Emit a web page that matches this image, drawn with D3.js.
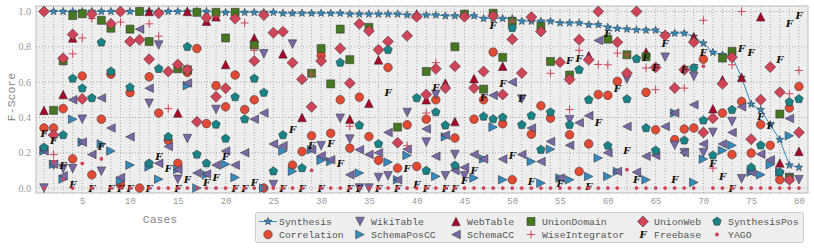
<!DOCTYPE html>
<html>
<head>
<meta charset="utf-8">
<script src="https://cdn.jsdelivr.net/npm/d3@7"></script>
<style>
  body { margin: 0; background: #fff; }
</style>
</head>
<body>
<div id="chart"></div>
<script>
const width = 814;
const height = 249;

const cases = d3.range(1, 81);
const xTicks = [5, 10, 15, 20, 25, 30, 35, 40, 45, 50, 55, 60, 65, 70, 75, 80];
const yTicks = [0, 0.2, 0.4, 0.6, 0.8, 1.0];

// F-score per case, null = no marker visible
const synthesis = [
  1, 1, 1, 1, 1, 1, 1, 1, 1, 1,
  1, 1, 1, 1, 1, 1, 1, 1, 0.995, 0.995,
  0.995, 0.995, 0.995, 0.995, 0.995, 0.99, 0.99, 0.99, 0.99, 0.99,
  0.99, 0.99, 0.985, 0.985, 0.985, 0.985, 0.985, 0.985, 0.98, 0.98,
  0.98, 0.98, 0.975, 0.975, 0.975, 0.975, 0.96, 0.96, 0.96, 0.96,
  0.945, 0.945, 0.945, 0.945, 0.935, 0.935, 0.935, 0.925, 0.925, 0.911,
  0.904, 0.90, 0.896, 0.894, 0.894, 0.872, 0.877, 0.877, 0.858, 0.82,
  0.768, 0.755, 0.745, 0.626, 0.475, 0.443, 0.358, 0.274, 0.13, 0.117
];
const correlation = [
  0.34, 0.34, 0.45, 0.165, 0.635, 0.075, 0.39, 0.645, 0.02, 0.54,
  0.0, 0.63, 0.425, 0.27, 0.14, 0.655, 0.79, 0.365, 0.58, 0.46,
  0.64, 0.445, 0.5, 0.0, null, null, 0.13, 0.207, 0.296, 0.75,
  0.31, 0.5, 0.226, 0.515, 0.292, 0.157, 0.683, 0.113, 0.358, 0.123,
  0.39, 0.5, null, 0.283, null, 0.39, 0.5, 0.77, 0.364, 0.047,
  null, 0.305, 0.466, 0.396, null, 0.302, 0.094, 0.25, 0.53, 0.525,
  0.604, null, null, 0.542, 0.33, null, 0.274, 0.334, 0.34, 0.73,
  null, 0.425, 0.19, 0.49, 0.198, 0.36, 0.242, 0.047, 0.453, 0.575
];
const wikiTable = [
  0.0, 0.13, 0.11, 0.11, 0.39, null, 0.095, null, null, null,
  null, 0.48, 0.81, null, 0.05, 0.28, null, null, 0.445, null,
  null, null, null, 0.76, 0.02, null, 0.815, null, null, 0.24,
  null, 0.395, 0.277, 0.0, 0.0, 0.06, 0.07, null, 0.428, null,
  0.26, 0.53, 0.07, 0.19, 0.07, null, null, null, null, null,
  0.504, null, null, null, null, 0.387, null, null, null, null,
  null, 0.617, null, null, null, 0.741, 0.242, 0.2, 0.632, 0.2,
  0.315, null, 0.377, 0.053, null, null, null, null, 0.06, 0.047
];
const schemaPosCC = [
  0.21, 0.135, 0.05, 0.39, 0.26, null, 0.25, 0.21, 0.04, 0.13,
  null, 0.12, 0.05, null, 0.105, 0.58, 0.0, 0.075, null, 0.135,
  0.06, null, null, 0.0, null, 0.21, 0.095, null, 0.217, 0.157,
  0.15, null, null, 0.085, null, null, 0.147, 0.047, 0.185, null,
  null, 0.066, 0.29, null, null, 0.057, 0.165, 0.345, 0.047, null,
  null, 0.15, 0.028, 0.22, 0.057, 0.047, null, 0.066, 0.17, 0.066,
  0.094, null, null, 0.047, null, null, 0.425, null, 0.032, 0.164,
  null, 0.213, 0.242, null, 0.09, 0.075, 0.132, 0.09, 0.296, null
];
const webTable = [
  0.44, null, 0.53, 0.85, null, null, null, null, null, null,
  null, 1.0, null, null, 0.425, 1.0, null, 0.945, 0.97, 0.70,
  null, null, 0.85, null, null, 0.76, null, 0.40, null, null,
  null, null, 0.39, null, 0.48, 0.726, null, null, null, 0.985,
  0.50, null, 0.594, 0.377, null, 0.62, null, null, 0.69, null,
  null, null, null, null, null, null, null, 0.75, null, null,
  null, null, null, 0.77, null, null, null, null, 0.855, null,
  0.449, 0.613, null, 0.626, null, 0.97, null, 0.142, null, 0.208
];
const schemaCC = [
  0.21, 0.135, 0.07, 0.50, 0.26, 0.19, 0.51, 0.34, 0.06, 0.29,
  0.90, 0.565, 0.14, 0.235, 0.105, 0.595, 0.085, 0.08, 0.13, 0.21,
  0.13, 0.2, 0.39, 0.425, 0.25, 0.24, null, null, 0.217, 0.183,
  0.16, null, 0.075, 0.217, 0.19, 0.2, 0.315, 0.047, 0.22, null,
  0.335, 0.18, 0.30, 0.1, 0.117, 0.19, 0.165, 0.525, 0.164, 0.6,
  0.19, 0.34, 0.15, 0.264, 0.057, 0.242, 0.37, 0.41, 0.836, 0.2,
  0.094, 0.349, 0.09, 0.18, 0.185, 0.349, 0.425, 0.2, 0.472, 0.25,
  null, 0.25, 0.315, 0.46, 0.09, 0.192, 0.16, null, 0.394, null
];
const unionDomain = [
  null, 0.44, 0.72, 0.977, 0.987, null, 0.95, 0.905, null, 0.90,
  1.0, 0.83, null, null, 0.675, 0.67, 0.995, null, 0.995, 0.85,
  0.995, null, 0.81, null, null, null, null, null, 0.65, 0.79,
  0.59, 0.90, 0.727, null, 0.91, null, null, 0.345, null, null,
  0.66, null, null, 0.8, 0.985, null, 0.56, 0.99, 0.74, 0.943,
  null, null, 0.915, 0.717, null, 0.64, null, null, null, 0.843,
  null, 0.755, null, 0.743, null, null, null, null, null, null,
  null, 0.736, 0.774, null, null, null, null, 0.419, 0.057, null
];
const wiseIntegrator = [
  null, 0.19, null, 0.76, 0.85, 0.96, null, null, 0.94, null,
  null, 0.93, 0.86, 0.45, null, null, null, null, 0.97, null,
  null, 0.935, 0.78, null, null, null, null, null, 0.645, null,
  null, null, 0.35, null, null, null, null, null, 0.24, null,
  0.425, 0.71, null, null, null, null, null, null, null, 0.943,
  null, null, null, 0.65, null, 0.445, 0.78, null, 0.7, 0.698,
  0.764, 0.755, null, 0.68, 0.557, null, null, 0.566, null, 0.95,
  0.113, null, 0.698, 1.0, null, null, null, null, 0.534, 0.666
];
const unionWeb = [
  1.0, 0.30, 0.735, 0.87, 0.505, 0.985, null, 0.93, 1.0, 0.83,
  0.84, 0.73, 0.99, 0.66, 0.70, 0.67, 0.375, 0.965, 0.517, 0.565,
  0.96, null, 0.72, 0.98, 0.88, 0.885, 0.71, 0.616, 0.46, 0.72,
  null, 0.79, 0.594, 0.93, 0.89, 0.783, 0.83, 0.257, 0.862, 0.97,
  0.53, 0.675, 0.566, 0.69, 0.97, 0.566, 0.66, 0.975, 0.53, 0.843,
  0.651, 0.968, 0.887, null, 0.713, 0.615, 0.84, 0.726, 1.0, null,
  0.826, 0.651, 1.0, null, 0.683, 0.864, 0.566, 0.67, 0.826, 0.315,
  0.396, 0.59, 0.741, null, 0.277, 0.5, 0.685, 0.542, 0.047, 0.315
];
const freebase = [
  0.31, 0.27, 0.13, 0.02, null, 0.0, 0.235, 0.0, 0.0, 0.0,
  null, 0.0, 0.18, 0.11, 0.0, 0.047, null, 0.03, 0.057, 0.18,
  0.0, 0.0, 0.03, null, null, 0.0, 0.33, 0.0, 0.24, 0.0,
  0.25, 0.137, 0.0, 0.0, null, 0.0, 0.54, 0.0, 0.11, 0.02,
  0.0, 0.57, 0.0, 0.0, 0.04, 0.1, 0.51, 0.92, 0.59, 0.183,
  0.505, 0.038, null, null, 0.028, 0.72, 0.735, 0.006, 0.37, 0.877,
  0.566, 0.213, 0.047, 0.74, 0.68, 0.82, 0.047, 0.67, 0.68, 0.768,
  0.14, 0.066, 0.0, 0.79, 0.77, 0.406, 0.353, 0.73, 0.93, 0.98
];
const synthesisPos = [
  0.23, null, 0.30, 0.62, 0.565, 0.51, 0.825, 0.66, null, 0.57,
  null, 0.14, 0.675, 0.29, null, 0.80, 0.19, 0.14, 0.36, 0.28,
  0.515, 0.39, 0.62, 0.54, 0.095, 0.30, null, 0.113, null, null,
  null, 0.71, null, 0.355, null, 0.25, 0.783, null, null, 0.51,
  0.098, 0.43, 0.355, 0.128, null, null, 0.405, 0.39, 0.4, 0.906,
  0.358, 0.41, 0.217, 0.43, null, 0.358, 0.67, 0.5, null, 0.24,
  null, 0.504, 0.732, 0.34, 0.213, null, null, 0.27, 0.68, 0.383,
  0.185, null, 0.443, null, 0.117, 0.242, null, 0.09, 0.487, 0.504
];
const yago = [
  0.0, 0.15, 0.05, 0.0, 0.14, 0.0, 0.165, 0.0, 0.0, 0.0,
  0.0, 0.0, 0.0, 0.0, 0.0, 0.0, 0.0, 0.0, 0.0, 0.0,
  0.0, 0.0, 0.0, 0.0, 0.0, 0.0, 0.0, 0.0, 0.1, 0.0,
  0.0, 0.0, 0.0, 0.0, 0.0, 0.0, 0.0, 0.0, 0.0, 0.0,
  0.0, 0.0, 0.0, 0.0, 0.0, 0.0, 0.0, 0.0, 0.0, 0.0,
  0.0, 0.0, 0.0, 0.0, 0.0, 0.0, 0.0, 0.0, 0.0, 0.0,
  0.0, 0.104, 0.0, 0.0, 0.0, 0.0, 0.0, 0.0, 0.0, 0.69,
  0.0, 0.0, 0.0, 0.0, 0.0, 0.0, 0.0, 0.0, 0.0, 0.0
];

// marker shapes (paths centred on 0,0)
function polyPath(pts) {
    return "M" + pts.map(p => p[0].toFixed(2) + "," + p[1].toFixed(2)).join("L") + "Z";
}
function triangle(r, dir) {
    const up = [[0, -r], [r, r], [-r, r]];
    const rot = {up: 0, right: 90, down: 180, left: 270}[dir] * Math.PI / 180;
    return polyPath(up.map(([x, y]) => [x * Math.cos(rot) - y * Math.sin(rot), x * Math.sin(rot) + y * Math.cos(rot)]));
}
function regular(n, r) {
    return polyPath(d3.range(n).map(i => {
        const a = -Math.PI / 2 + i * 2 * Math.PI / n;
        return [r * Math.cos(a), r * Math.sin(a)];
    }));
}
function star(ro, ri) {
    return polyPath(d3.range(10).map(i => {
        const a = -Math.PI / 2 + i * Math.PI / 5;
        const r = i % 2 ? ri : ro;
        return [r * Math.cos(a), r * Math.sin(a)];
    }));
}
const shapes = {
    star: star(4.1, 1.7),
    circle: d3.symbol(d3.symbolCircle, Math.PI * 4.3 * 4.3)(),
    down: triangle(4.3, "down"),
    right: triangle(4.3, "right"),
    up: triangle(4.3, "up"),
    left: triangle(4.3, "left"),
    square: polyPath([[-4, -4], [4, -4], [4, 4], [-4, 4]]),
    plus: "M-4,0L4,0M0,-4L0,4",
    diamond: polyPath([[0, -5.5], [5.5, 0], [0, 5.5], [-5.5, 0]]),
    pentagon: regular(5, 4.5),
    dot: d3.symbol(d3.symbolCircle, Math.PI * 1.9 * 1.9)()
};

// plot order (matplotlib fills legend column by column)
const series = [
    {name: "Synthesis", values: synthesis, shape: "star", color: "#348ABD", line: true},
    {name: "Correlation", values: correlation, shape: "circle", color: "#E24A33"},
    {name: "WikiTable", values: wikiTable, shape: "down", color: "#7A68A6"},
    {name: "SchemaPosCC", values: schemaPosCC, shape: "right", color: "#348ABD"},
    {name: "WebTable", values: webTable, shape: "up", color: "#A60628"},
    {name: "SchemaCC", values: schemaCC, shape: "left", color: "#7A68A6"},
    {name: "UnionDomain", values: unionDomain, shape: "square", color: "#467821"},
    {name: "WiseIntegrator", values: wiseIntegrator, shape: "plus", color: "#CF4457"},
    {name: "UnionWeb", values: unionWeb, shape: "diamond", color: "#CF4457"},
    {name: "Freebase", values: freebase, shape: "F", color: "#111"},
    {name: "SynthesisPos", values: synthesisPos, shape: "pentagon", color: "#188487"},
    {name: "YAGO", values: yago, shape: "dot", color: "#CF4457"}
];

const plot = {left: 36, right: 808, top: 6, bottom: 193};

let x = d3.scaleLinear()
    .domain([0.16, 80.95])
    .range([plot.left, plot.right]);

let y = d3.scaleLinear()
    .domain([-0.028, 1.031])
    .range([plot.bottom, plot.top]);

let svg = d3.select("#chart")
    .append("svg")
    .attr("width", width)
    .attr("height", height)
    .style("font-family", "'Liberation Mono', monospace");

svg.append("rect")
    .attr("x", plot.left)
    .attr("y", plot.top)
    .attr("width", plot.right - plot.left)
    .attr("height", plot.bottom - plot.top)
    .attr("fill", "#eeeeee");

// dotted grid: one vertical line per case, horizontals at y ticks
svg.append("g")
    .selectAll("line")
    .data(cases)
    .join("line")
    .attr("x1", d => x(d)).attr("x2", d => x(d))
    .attr("y1", plot.top).attr("y2", plot.bottom)
    .attr("stroke", "#9a9a9a")
    .attr("stroke-width", 0.8)
    .attr("stroke-dasharray", "1,2");

svg.append("g")
    .selectAll("line")
    .data(yTicks)
    .join("line")
    .attr("x1", plot.left).attr("x2", plot.right)
    .attr("y1", d => y(d)).attr("y2", d => y(d))
    .attr("stroke", "#9a9a9a")
    .attr("stroke-width", 0.8)
    .attr("stroke-dasharray", "1,2");

svg.append("rect")
    .attr("x", plot.left)
    .attr("y", plot.top)
    .attr("width", plot.right - plot.left)
    .attr("height", plot.bottom - plot.top)
    .attr("fill", "none")
    .attr("stroke", "#bcbcbc")
    .attr("stroke-width", 1);

// axes
let xAxis = svg.append("g")
    .attr("transform", `translate(0,${plot.bottom})`)
    .call(d3.axisBottom(x).tickValues(xTicks).tickSize(0).tickPadding(5).tickFormat(d3.format("d")));
xAxis.select(".domain").remove();
xAxis.selectAll("text")
    .attr("fill", "#999")
    .style("font-family", "'Liberation Mono', monospace")
    .style("font-size", "9px");

let yAxis = svg.append("g")
    .attr("transform", `translate(${plot.left},0)`)
    .call(d3.axisLeft(y).tickValues(yTicks).tickSize(0).tickPadding(5).tickFormat(d3.format(".1f")));
yAxis.select(".domain").remove();
yAxis.selectAll("text")
    .attr("fill", "#999")
    .style("font-family", "'Liberation Serif', serif")
    .style("font-size", "10px");

svg.append("text")
    .attr("x", 160)
    .attr("y", 223)
    .attr("text-anchor", "middle")
    .attr("fill", "#888")
    .style("font-size", "11.5px")
    .text("Cases");

svg.append("text")
    .attr("transform", "translate(15,97) rotate(-90)")
    .attr("text-anchor", "middle")
    .attr("fill", "#888")
    .style("font-size", "11.5px")
    .text("F-Score");

// data
let marks = svg.append("g");

function drawMarker(sel, s) {
    if (s.shape === "F") {
        sel.append("text")
            .attr("text-anchor", "middle")
            .attr("dy", "0.35em")
            .attr("fill", s.color)
            .style("font-family", "'DejaVu Serif', serif")
            .style("font-weight", "bold")
            .style("font-style", "italic")
            .style("font-size", "10px")
            .text("F");
    } else if (s.shape === "plus") {
        sel.append("path")
            .attr("d", shapes.plus)
            .attr("stroke", s.color)
            .attr("stroke-width", 1)
            .attr("fill", "none");
    } else if (s.shape === "dot") {
        sel.append("path")
            .attr("d", shapes.dot)
            .attr("fill", s.color);
    } else {
        sel.append("path")
            .attr("d", shapes[s.shape])
            .attr("fill", s.color)
            .attr("stroke", "#2b2b2b")
            .attr("stroke-width", 0.5);
    }
}

series.forEach(s => {
    const pts = cases.map((c, i) => ({c: c, v: s.values[i]})).filter(d => d.v !== null);

    if (s.line) {
        marks.append("path")
            .datum(pts)
            .attr("fill", "none")
            .attr("stroke", s.color)
            .attr("stroke-width", 1)
            .attr("d", d3.line().x(d => x(d.c)).y(d => y(d.v)));
    }

    marks.append("g")
        .selectAll("g")
        .data(pts)
        .join("g")
        .attr("transform", d => `translate(${x(d.c)},${y(d.v)})`)
        .each(function() { drawMarker(d3.select(this), s); });
});

// legend, 6 columns x 2 rows filled column-wise
let legend = svg.append("g");

legend.append("rect")
    .attr("x", 255.5)
    .attr("y", 212.5)
    .attr("width", 548)
    .attr("height", 30)
    .attr("rx", 2)
    .attr("fill", "#eeeeee")
    .attr("stroke", "#cccccc");

const colX = [268, 360, 456, 531, 643, 717];
const rowY = [221.5, 234.5];

series.forEach((s, i) => {
    const col = Math.floor(i / 2);
    const row = i % 2;
    const mx = colX[col];
    const my = rowY[row];
    let item = legend.append("g");

    if (s.line) {
        item.append("line")
            .attr("x1", mx - 9).attr("x2", mx + 9)
            .attr("y1", my).attr("y2", my)
            .attr("stroke", s.color)
            .attr("stroke-width", 1);
    }
    let m = item.append("g").attr("transform", `translate(${mx},${my})`);
    drawMarker(m, s);

    item.append("text")
        .attr("x", mx + 11)
        .attr("y", my)
        .attr("dy", "0.35em")
        .attr("fill", "#555")
        .style("font-size", "9.8px")
        .text(s.name);
});
</script>
</body>
</html>
